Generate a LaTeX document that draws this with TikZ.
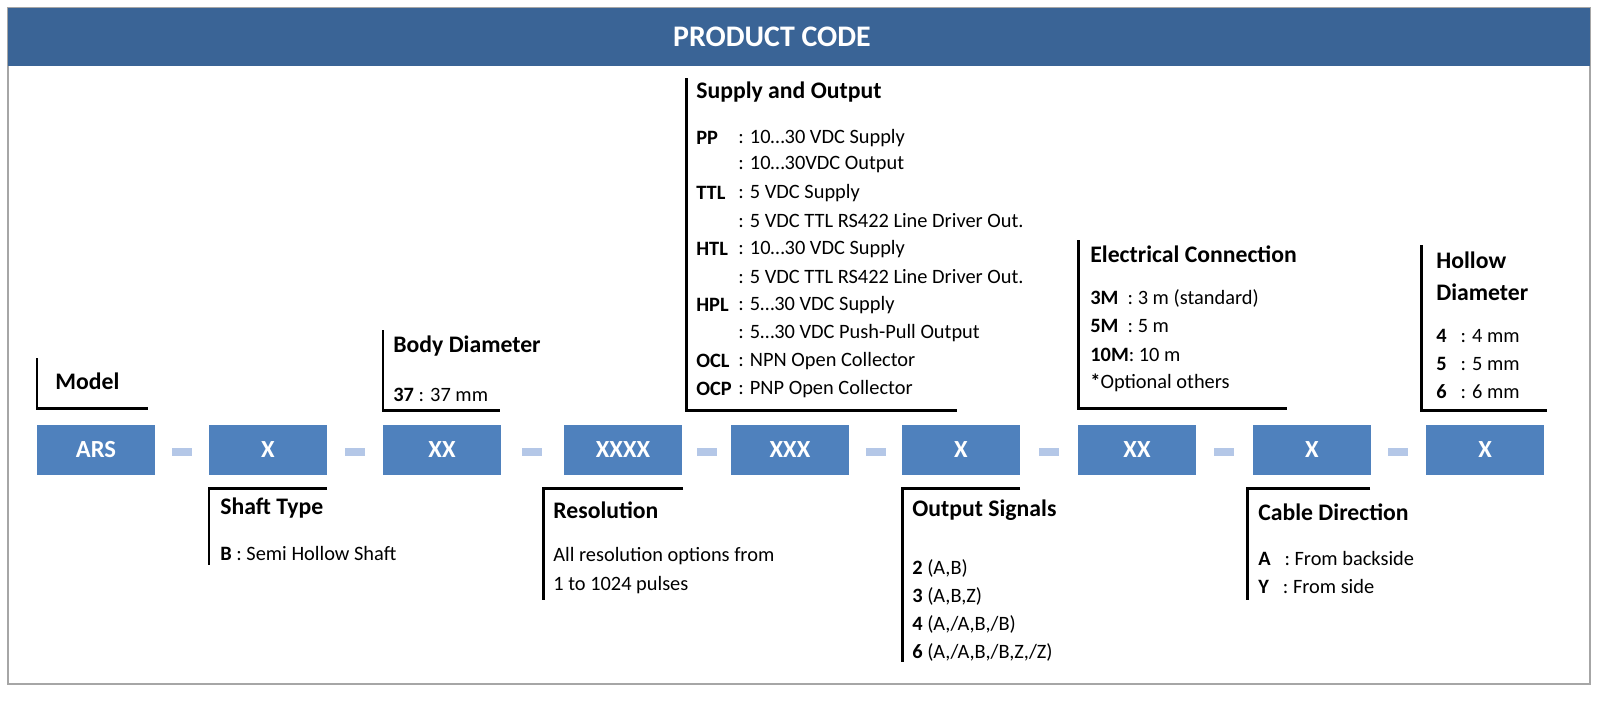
\documentclass[tikz,border=0pt]{standalone}
\usepackage{fontspec}
\setmainfont{Carlito}
\definecolor{headblue}{HTML}{3A6496}
\definecolor{boxblue}{HTML}{4F81BD}
\definecolor{dashblue}{HTML}{B4C7E7}
\begin{document}
\begin{tikzpicture}[x=0.02cm,y=-0.02cm]
        \tikzset{
            codebox/.style={fill=boxblue,draw=none,text=white,font=\fontsize{14}{16}\selectfont\bfseries,minimum width=2.36cm,minimum height=1cm,inner sep=0pt},
            sep/.style={fill=dashblue,draw=none,minimum width=0.4cm,minimum height=0.16cm,inner sep=0pt},
            title/.style={anchor=west,font=\fontsize{13.5}{15}\selectfont\bfseries,inner sep=0pt},
            item/.style={anchor=west,font=\fontsize{11.6}{13}\selectfont,inner sep=0pt},
            bracket/.style={line width=1.7pt},
        }
        \useasboundingbox (0,0) rectangle (1598,704);
        \draw[gray!70,line width=0.8pt] (8,8) rectangle (1590,684);
        \fill[headblue] (8,8) rectangle (1590,66);
        \node[text=white,font=\fontsize{17}{19}\selectfont\bfseries] (head) at (772,37) {PRODUCT CODE};

        % code boxes
        \node[codebox] (ars) at (96,450) {ARS};
        \node[codebox] (shaft) at (268,450) {X};
        \node[codebox] (body) at (442,450) {XX};
        \node[codebox] (res) at (623,450) {XXXX};
        \node[codebox] (supply) at (790,450) {XXX};
        \node[codebox] (signal) at (961,450) {X};
        \node[codebox] (conn) at (1137,450) {XX};
        \node[codebox] (cable) at (1312,450) {X};
        \node[codebox] (hollow) at (1485,450) {X};
        \foreach \x in {182,355,532,707,876,1049,1224,1398}
            \node[sep] at (\x,452) {};

        % labels above
        \draw[bracket] (37,358) -- (37,408) -- (148,408);
        \node[title] (model) at (55,381) {Model};

        \draw[bracket] (383,330) -- (383,410) -- (500,410);
        \node[title] (bodyt) at (393,346) {Body Diameter};
        \node[item] at (393,395) {\textbf{37} : 37 mm};

        \draw[bracket] (686,78) -- (686,410) -- (957,410);
        \node[title] (supplyt) at (696,92) {Supply and Output};
        \foreach \y/\k/\t in {138/PP/10…30 VDC Supply, 165//10…30VDC Output,
            193/TTL/5 VDC Supply, 221//5 VDC TTL RS422 Line Driver Out.,
            249/HTL/10…30 VDC Supply, 277//5 VDC TTL RS422 Line Driver Out.,
            305/HPL/5…30 VDC Supply, 333//5…30 VDC Push-Pull Output,
            361/OCL/NPN Open Collector, 389/OCP/PNP Open Collector}{
            \node[item] at (696,\y) {\textbf{\k}};
            \node[item] at (738,\y) {: \t};
        }

        \draw[bracket] (1078,240) -- (1078,408) -- (1287,408);
        \node[title] (connt) at (1090,254) {Electrical Connection};
        \node[item] at (1090,298) {\textbf{3M}~~: 3 m (standard)};
        \node[item] at (1090,326) {\textbf{5M}~~: 5 m};
        \node[item] at (1090,355) {\textbf{10M}: 10 m};
        \node[item] at (1090,383) {\textbf{*}Optional others};

        \draw[bracket] (1421,245) -- (1421,410) -- (1547,410);
        \node[title] (hollowt) at (1436,260) {Hollow};
        \node[title] at (1436,292) {Diameter};
        \foreach \y/\k in {336/4,364/5,392/6}
            \node[item] at (1436,\y) {\textbf{\k}~~~: \k{} mm};

        % labels below
        \draw[bracket] (327,488) -- (209,488) -- (209,565);
        \node[title] (shaftt) at (220,508) {Shaft Type};
        \node[item] at (220,553) {\textbf{B} : Semi Hollow Shaft};

        \draw[bracket] (683,488) -- (543,488) -- (543,600);
        \node[title] (rest) at (553,510) {Resolution};
        \node[item] at (553,556) {All resolution options from};
        \node[item] at (553,585) {1 to 1024 pulses};

        \draw[bracket] (1020,488) -- (902,488) -- (902,662);
        \node[title] (signalt) at (912,510) {Output Signals};
        \node[item] at (912,568) {\textbf{2} (A,B)};
        \node[item] at (912,596) {\textbf{3} (A,B,Z)};
        \node[item] at (912,624) {\textbf{4} (A,/A,B,/B)};
        \node[item] at (912,652) {\textbf{6} (A,/A,B,/B,Z,/Z)};

        \draw[bracket] (1370,488) -- (1247,488) -- (1247,600);
        \node[title] (cablet) at (1258,512) {Cable Direction};
        \node[item] at (1258,558) {\textbf{A}~~~: From backside};
        \node[item] at (1258,586) {\textbf{Y}~~~: From side};
    \end{tikzpicture}
\end{document}
